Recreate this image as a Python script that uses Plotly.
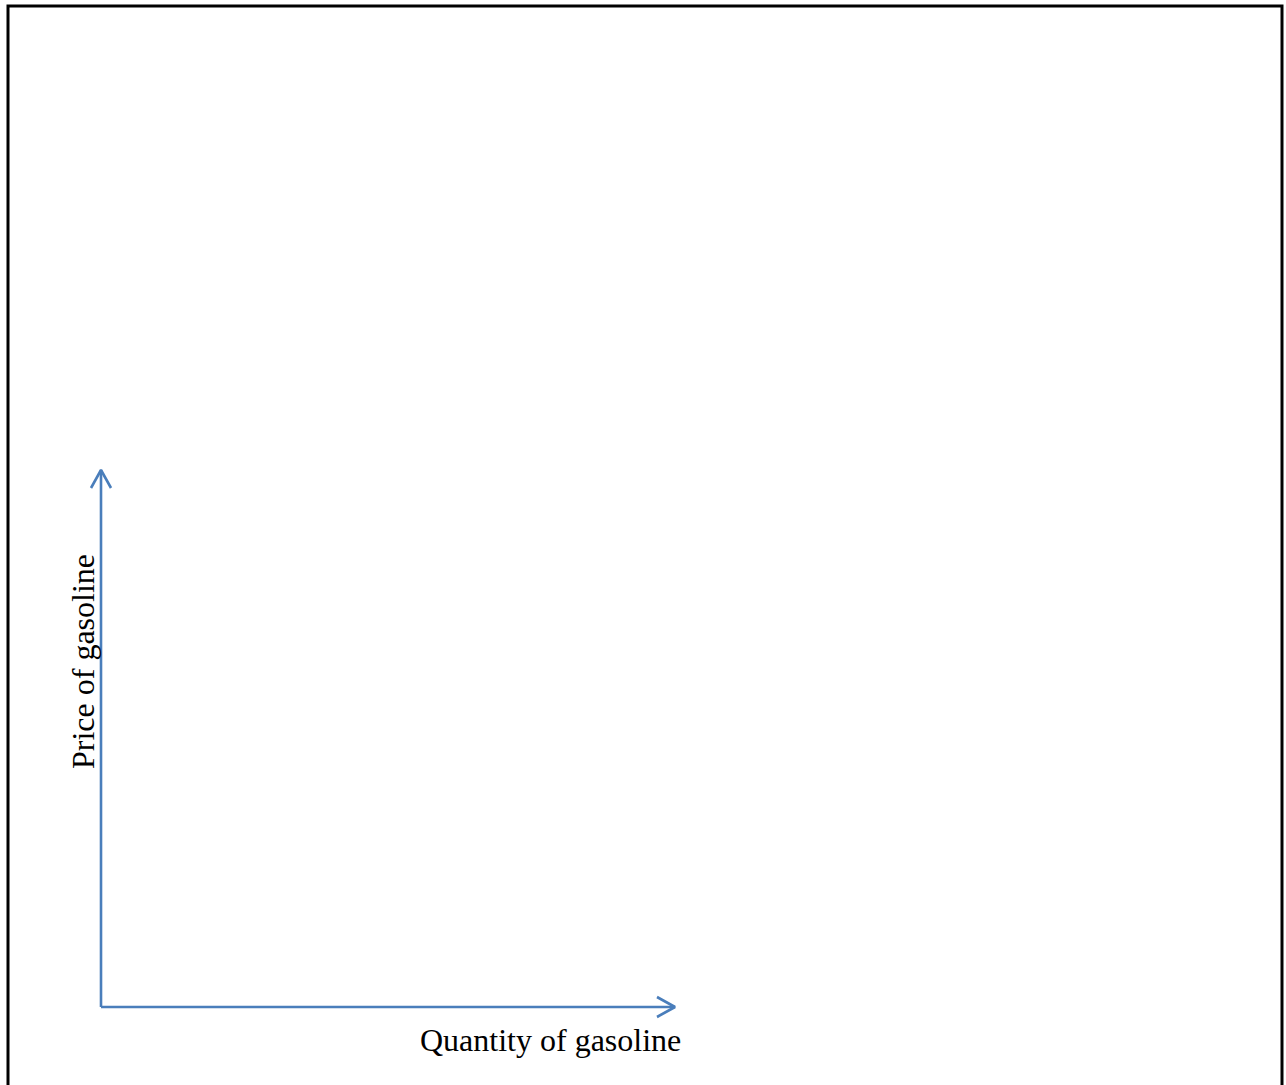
import plotly.graph_objects as go

# Diagram content (axes of a supply/demand style sketch, no plotted series)
x_axis_label = "Quantity of gasoline"
y_axis_label = "Price of gasoline"
quantity_extent = [0, 10]   # horizontal axis runs from origin to this end
price_extent = [0, 10]      # vertical axis runs from origin to this end

W, H = 1286, 1085
BLUE = "#4A7EBB"
FONT = "Liberation Serif, Times New Roman, serif"

# pixel geometry for the data area (origin at px (101,1007), ends at 675 / 470)
ox, oy = 101, 1007
px_x = (675 - ox) / (quantity_extent[1] - quantity_extent[0])
px_y = (oy - 470) / (price_extent[1] - price_extent[0])
x_range = [-ox / px_x, (W - ox) / px_x]
y_range = [-(H - oy) / px_y, oy / px_y]

fig = go.Figure()

line_style = dict(color=BLUE, width=2.6)
# vertical (price) axis
fig.add_trace(go.Scatter(x=[quantity_extent[0], quantity_extent[0]], y=price_extent,
                         mode="lines", line=line_style, hoverinfo="skip"))
# horizontal (quantity) axis
fig.add_trace(go.Scatter(x=quantity_extent, y=[price_extent[0], price_extent[0]],
                         mode="lines", line=line_style, hoverinfo="skip"))

# open chevron arrowheads
arm_len, arm_half = 18, 10
qx, py = quantity_extent[1], price_extent[1]
fig.add_trace(go.Scatter(
    x=[qx - arm_len / px_x, qx, qx - arm_len / px_x],
    y=[arm_half / px_y, 0, -arm_half / px_y],
    mode="lines", line=line_style, hoverinfo="skip"))
fig.add_trace(go.Scatter(
    x=[-arm_half / px_x, 0, arm_half / px_x],
    y=[py - arm_len / px_y, py, py - arm_len / px_y],
    mode="lines", line=line_style, hoverinfo="skip"))

fig.add_annotation(x=(550 - ox) / px_x, y=-(1040 - oy) / px_y, text=x_axis_label,
                   showarrow=False, font=dict(family=FONT, size=32, color="black"),
                   xanchor="center", yanchor="middle")
fig.add_annotation(x=(83 - ox) / px_x, y=(oy - 662) / px_y, text=y_axis_label,
                   showarrow=False, textangle=-90,
                   font=dict(family=FONT, size=32, color="black"),
                   xanchor="center", yanchor="middle")

# outer frame (bottom edge continues beyond the visible page)
fig.add_shape(type="rect", xref="paper", yref="paper",
              x0=8 / W, x1=(W - 4) / W, y0=-0.05, y1=1 - 6 / H,
              line=dict(color="black", width=3), fillcolor="rgba(0,0,0,0)")

fig.update_layout(
    width=W, height=H,
    margin=dict(l=0, r=0, t=0, b=0),
    paper_bgcolor="white", plot_bgcolor="white",
    showlegend=False,
    xaxis=dict(range=x_range, visible=False, fixedrange=True),
    yaxis=dict(range=y_range, visible=False, fixedrange=True),
)

fig.write_html("out.html", config={"displayModeBar": False},
               post_script="document.body.style.margin='0';document.body.style.overflow='hidden';")
